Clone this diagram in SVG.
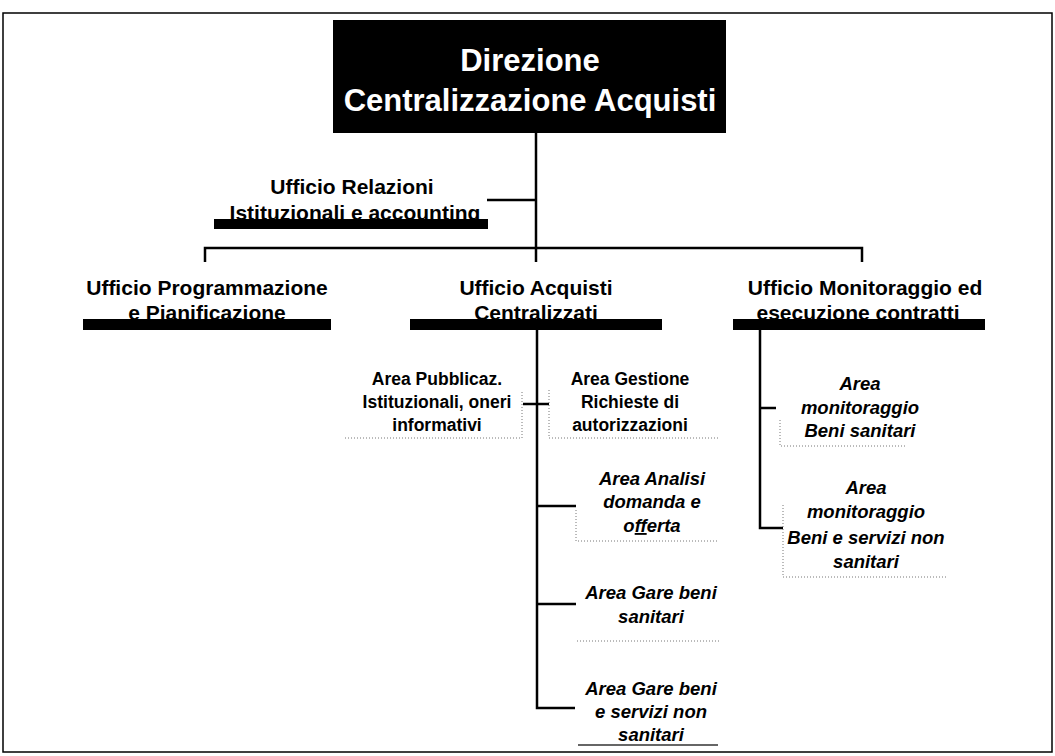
<svg xmlns="http://www.w3.org/2000/svg" width="1055" height="756" viewBox="0 0 1055 756">
<style>
.off{font-family:"Liberation Sans",Arial,sans-serif;font-weight:bold;font-size:21px;fill:#000;text-anchor:middle}
.area{font-family:"Liberation Sans",Arial,sans-serif;font-weight:bold;font-size:17.5px;fill:#000;text-anchor:middle}
.ita{font-family:"Liberation Sans",Arial,sans-serif;font-weight:bold;font-style:italic;font-size:18.5px;fill:#000;text-anchor:middle}
.title{font-family:"Liberation Sans",Arial,sans-serif;font-weight:bold;font-size:31px;fill:#fff;text-anchor:middle}
.ln{stroke:#000;stroke-width:2.5;fill:none}
.dot{stroke:#777;stroke-width:1;stroke-dasharray:1 2;fill:none}
.bar{fill:#000}
</style>
<rect width="1055" height="756" fill="#fff"/>
<rect x="3" y="13" width="1049" height="739" fill="none" stroke="#000" stroke-width="1.5"/>

<g id="connectors">
<path class="ln" d="M536 133V262"/>
<path class="ln" d="M487 200H536"/>
<path class="ln" d="M205 262V248H862V262"/>
<path class="ln" d="M537 330V708H575"/>
<path class="ln" d="M523 404H549"/>
<path class="ln" d="M537 506H576"/>
<path class="ln" d="M537 604H576"/>
<path class="ln" d="M760 330V528H783"/>
<path class="ln" d="M760 408H776"/>
</g>

<g id="direzione">
<rect x="333" y="20" width="393" height="113" fill="#000"/>
<text class="title" x="530" y="71">Direzione</text>
<text class="title" x="530" y="111">Centralizzazione Acquisti</text>
</g>

<g id="relazioni">
<rect class="bar" x="214" y="219" width="274" height="10"/>
<text class="off" x="352" y="194">Ufficio Relazioni</text>
<text class="off" x="355" y="220">Istituzionali  e accounting</text>
</g>

<g id="programmazione">
<rect class="bar" x="83" y="319" width="248" height="11"/>
<text class="off" x="207" y="295">Ufficio Programmazione</text>
<text class="off" x="207" y="320">e Pianificazione</text>
</g>

<g id="acquisti">
<rect class="bar" x="410" y="319" width="252" height="11"/>
<text class="off" x="536" y="295">Ufficio Acquisti</text>
<text class="off" x="536" y="320">Centralizzati</text>
</g>

<g id="monitoraggio">
<rect class="bar" x="733" y="319" width="252" height="11"/>
<text class="off" x="865" y="295">Ufficio Monitoraggio  ed</text>
<text class="off" x="858" y="320">esecuzione  contratti</text>
</g>

<g id="area-pubblicaz">
<path class="dot" d="M345 438H522V392"/>
<text class="area" x="437" y="385">Area Pubblicaz.</text>
<text class="area" x="437" y="408">Istituzionali, oneri</text>
<text class="area" x="437" y="431">informativi</text>
</g>

<g id="area-gestione">
<path class="dot" d="M549 390V438H720"/>
<text class="area" x="630" y="385">Area Gestione</text>
<text class="area" x="630" y="408">Richieste di</text>
<text class="area" x="630" y="431">autorizzazioni</text>
</g>

<g id="area-analisi">
<path class="dot" d="M576 510V541H718"/>
<text class="ita" x="652" y="485">Area Analisi</text>
<text class="ita" x="652" y="508">domanda e</text>
<text class="ita" x="652" y="532">o<tspan text-decoration="underline">ff</tspan>erta</text>
</g>

<g id="area-gare-sanitari">
<path class="dot" d="M577 641H720"/>
<text class="ita" x="651" y="599">Area Gare beni</text>
<text class="ita" x="651" y="623">sanitari</text>
</g>

<g id="area-gare-non-sanitari">
<path d="M578 745H718" stroke="#333" stroke-width="1.5" fill="none"/>
<text class="ita" x="651" y="695">Area  Gare beni</text>
<text class="ita" x="651" y="718">e servizi non</text>
<text class="ita" x="651" y="741">sanitari</text>
</g>

<g id="area-mon-sanitari">
<path class="dot" d="M780 420V446H905"/>
<text class="ita" x="860" y="390">Area</text>
<text class="ita" x="860" y="414">monitoraggio</text>
<text class="ita" x="860" y="437">Beni  sanitari</text>
</g>

<g id="area-mon-non-sanitari">
<path class="dot" d="M783 505V577H948"/>
<text class="ita" x="866" y="494">Area</text>
<text class="ita" x="866" y="518">monitoraggio</text>
<text class="ita" x="866" y="544">Beni e servizi non</text>
<text class="ita" x="866" y="568">sanitari</text>
</g>
</svg>
